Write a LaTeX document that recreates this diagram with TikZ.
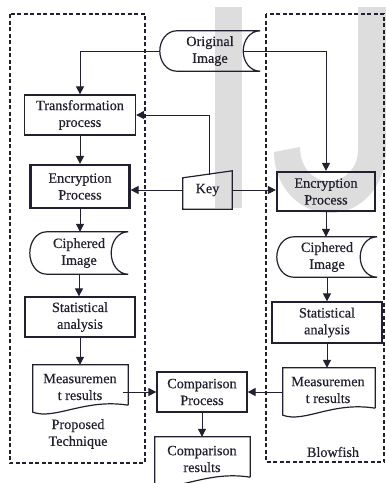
\documentclass[tikz,border=0pt]{standalone}
\usepackage{fontspec}
\setmainfont{Liberation Serif}
\newfontfamily\lbfont{Liberation Serif}[FakeBold=0.4]
\usetikzlibrary{arrows.meta,calc}
\definecolor{txt}{HTML}{20202E}
\definecolor{wm}{HTML}{DDDDDD}
\tikzset{
  lbl/.style={inner sep=0pt, align=center, text=txt, font=\lbfont\fontsize{14.2}{16.8}\selectfont},
  boxnode/.style={lbl, draw=txt, line width=1.3pt, minimum width=#1, rectangle},
  thickbox/.style={lbl, draw=txt, line width=2.2pt, minimum width=#1, rectangle},
  plainnode/.style={lbl, minimum width=#1},
  outl/.style={draw=txt, line width=1.2pt},
  conn/.style={draw=txt, line width=1pt, -{Triangle[length=8pt,width=8pt]}},
  dashbox/.style={draw=txt, line width=1.3pt, dash pattern=on 4pt off 2.5pt},
}
\newcommand\sdshape[2]{%
  \draw[outl] ([xshift=#2]#1.north west) -- (#1.north east)
    to[out=180,in=90] ([xshift=-#2]#1.east)
    to[out=-90,in=180] (#1.south east)
    -- ([xshift=#2]#1.south west)
    to[out=180,in=-90] (#1.west)
    to[out=90,in=180] ([xshift=#2]#1.north west) -- cycle;}
\newcommand\docshape[1]{%
  \draw[outl] (#1.south east) -- (#1.north east) -- (#1.north west)
    -- ($(#1.south west)+(0,7)$)
    .. controls ($(#1.south west)+(22,15)$) and ($(#1.south east)+(-43,-7)$) .. (#1.south east);}
\begin{document}
\begin{tikzpicture}[x=1pt,y=-1pt]
\useasboundingbox (0,0) rectangle (386,483);
\clip (0,0) rectangle (386,483);
% watermark
\fill[wm] (215,7) rectangle (242,208);
\fill[wm] (358,7) -- (386,7) -- (386,150)
  .. controls (386,185) and (362,213) .. (330,213)
  .. controls (298,213) and (274,185) .. (274,152)
  -- (300,147)
  .. controls (300,168) and (313,181) .. (329,181)
  .. controls (345,181) and (358,168) .. (358,150) -- cycle;
% dashed groups
\draw[dashbox] (10,14) rectangle (145,463);
\draw[dashbox] (266,14) rectangle (384,462);
% nodes
\node[plainnode=100pt, minimum height=40pt] (orig) at (210,51) {Original\\Image};
\node[boxnode=111pt, minimum height=40pt] (trans) at (80,115) {Transformation\\process};
\node[thickbox=99pt, minimum height=43pt] (encL) at (80,186.5) {Encryption\\Process};
\node[plainnode=49pt, minimum height=38pt] (key) at (207.5,190) {Key};
\node[thickbox=98pt, minimum height=39pt] (encR) at (326,191.5) {Encryption\\Process};
\node[plainnode=98pt, minimum height=42pt] (ciphL) at (79,253) {Ciphered\\Image};
\node[plainnode=100pt, minimum height=40pt] (ciphR) at (327,257) {Ciphered\\Image};
\node[boxnode=110pt, minimum height=40pt] (statL) at (80,317) {Statistical\\analysis};
\node[boxnode=110pt, minimum height=41pt] (statR) at (327,322.5) {Statistical\\analysis};
\node[plainnode=95pt, minimum height=40pt] (measL) at (80.5,385) {};
\node[lbl] (measLt) at (80,387) {Measuremen\\t results};
\node[plainnode=92pt, minimum height=40pt] (measR) at (329,388) {};
\node[lbl] (measRt) at (328,390) {Measuremen\\t results};
\node[boxnode=90pt, minimum height=40pt] (comp) at (202,392) {Comparison\\Process};
\node[plainnode=95pt, minimum height=40pt] (compres) at (202.5,457) {};
\node[lbl] (compt) at (202,459) {Comparison\\results};
\node[lbl] (proposed) at (78,434) {Proposed\\Technique};
\node[lbl] (blowfish) at (333,452) {Blowfish};
% shapes
\sdshape{orig}{17pt}
\sdshape{ciphL}{17pt}
\sdshape{ciphR}{17pt}
\draw[outl] ([yshift=-7pt]key.north west) -- (key.north east) -- (key.south east) -- (key.south west) -- cycle;
\docshape{measL}
\docshape{measR}
\docshape{compres}
% connectors
\coordinate (keyup) at (209,175);
\coordinate (origin) at ($(orig.east)+(-17,0)$);
\draw[conn] (orig.west) -| (trans.north);
\draw[conn] (origin) -| (encR.north);
\draw[conn] (keyup) |- (trans.east);
\draw[conn] (key.west) -- (key.west -| encL.east);
\draw[conn] (key.east) -- (key.east -| encR.west);
\draw[conn] (trans.south) -- (encL.north);
\draw[conn] (encL.south) -- (encL.south |- ciphL.north);
\draw[conn] (ciphL.south) -- (ciphL.south |- statL.north);
\draw[conn] (statL.south) -- (statL.south |- measL.north);
\draw[conn] (encR.south) -- (encR.south |- ciphR.north);
\draw[conn] (ciphR.south) -- (ciphR.south |- statR.north);
\draw[conn] (statR.south) -- (statR.south |- measR.north);
\draw[conn] ([xshift=-5pt]measL.east |- comp.west) -- (comp.west);
\draw[conn] (measR.west |- comp.east) -- (comp.east);
\draw[conn] (comp.south) -- (comp.south |- compres.north);
\end{tikzpicture}
\end{document}
